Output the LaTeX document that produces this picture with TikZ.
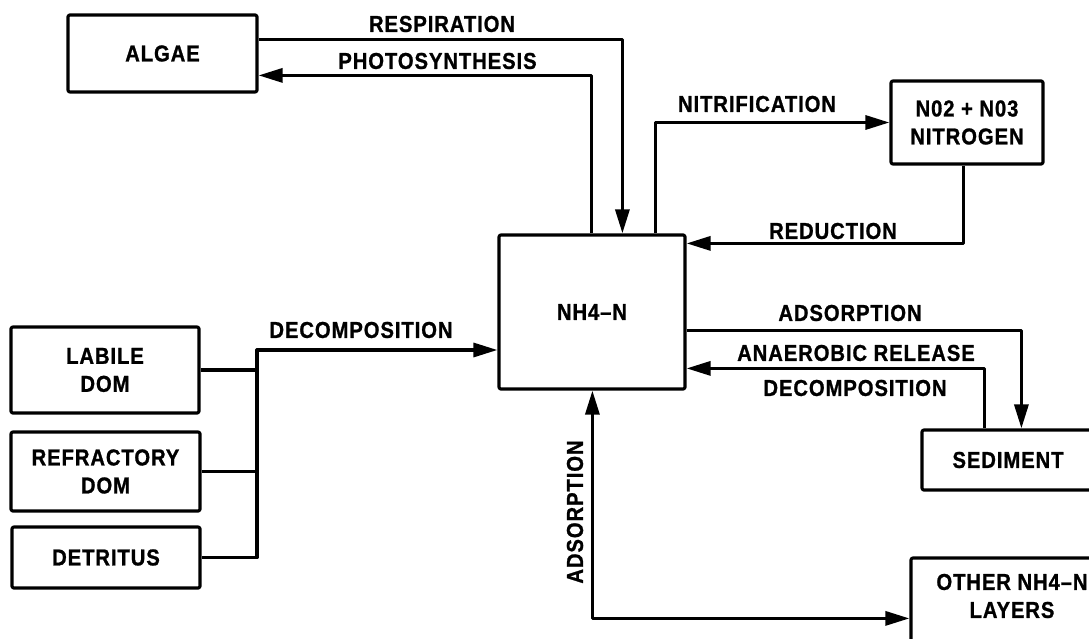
\documentclass[tikz,border=0pt]{standalone}
\usepackage{fontspec}
\setmainfont{Liberation Sans}[FakeStretch=0.88, LetterSpace=4, BoldFeatures={FakeBold=1}]
\usetikzlibrary{arrows.meta,calc}
\begin{document}
\begin{tikzpicture}[x=1pt,y=-1pt,
  line width=3.2pt, line join=round,
  box/.style={draw, rounded corners=2pt, inner sep=0pt, align=center,
    font=\fontsize{23}{28}\selectfont\bfseries},
  lbl/.style={inner sep=0pt, align=center, font=\fontsize{23}{28}\selectfont\bfseries},
  tip/.tip={Triangle[length=24pt,width=14pt]},
  arr/.style={-tip},
  darr/.style={tip-tip}]
\useasboundingbox (0,0) rectangle (1089,639);
\clip (0,0) rectangle (1089,639);
% boxes
\node[box, minimum width=189pt, minimum height=77pt] (algae) at (162.5,53.5) {ALGAE};
\node[box, minimum width=186pt, minimum height=154pt] (nh4) at (592,312) {NH4–N};
\node[box, minimum width=152pt, minimum height=83pt] (n23) at (967,122.5) {N02 + N03\\NITROGEN};
\node[box, minimum width=172pt, minimum height=60pt] (sed) at (1008,460) {SEDIMENT};
\node[box, minimum width=204pt, minimum height=110pt] (oth) at (1013,613) {};
\node[lbl] (othtxt) at (1012,596) {OTHER NH4–N\\LAYERS};
\node[box, minimum width=188pt, minimum height=86pt] (lab) at (105,370) {LABILE\\DOM};
\node[box, minimum width=189pt, minimum height=79pt] (ref) at (105.5,471.5) {REFRACTORY\\DOM};
\node[box, minimum width=188pt, minimum height=61pt] (det) at (106,557.5) {DETRITUS};
% connectors
\draw[arr] ($(algae.north east)+(0,26)$) -| ($(nh4.north west)+(125,0)$);
\draw[arr] ($(nh4.north west)+(94,0)$) |- ($(algae.north east)+(0,62)$);
\draw[arr] ($(nh4.north west)+(158,0)$) |- (n23.west);
\draw[arr] ($(n23.south west)+(74,0)$) |- ($(nh4.north east)+(0,10)$);
\draw[arr] ($(nh4.north east)+(0,97)$) -| ($(sed.north west)+(101,0)$);
\draw[arr] ($(sed.north west)+(64,0)$) |- ($(nh4.north east)+(0,135)$);
\draw[darr] ($(nh4.south west)+(95,0)$) |- ($(oth.north west)+(0,62)$);
\coordinate (bus) at (257,350);
\draw (lab.east) -- (lab.east -| bus);
\draw (ref.east) -- (ref.east -| bus);
\draw[arr] (det.east) -| (bus) -- (bus -| nh4.west);
% labels
\node[lbl] (lresp) at (442,24) {RESPIRATION};
\node[lbl] (lphot) at (437.5,61) {PHOTOSYNTHESIS};
\node[lbl] (lnitr) at (757,104) {NITRIFICATION};
\node[lbl] (lred) at (833,231) {REDUCTION};
\node[lbl] (ladsr) at (850,313) {ADSORPTION};
\node[lbl] (lanae) at (856,353) {ANAEROBIC RELEASE};
\node[lbl] (ldecr) at (855,388) {DECOMPOSITION};
\node[lbl] (ldecl) at (361,330) {DECOMPOSITION};
\node[lbl, rotate=90] (ladsv) at (575,512) {ADSORPTION};
\end{tikzpicture}
\end{document}
